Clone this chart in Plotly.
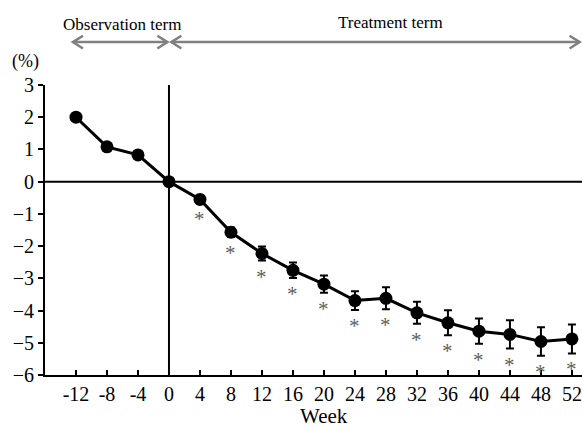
import plotly.graph_objects as go

weeks = [-12, -8, -4, 0, 4, 8, 12, 16, 20, 24, 28, 32, 36, 40, 44, 48, 52]
change = [2.0, 1.08, 0.83, 0.0, -0.55, -1.57, -2.23, -2.75, -3.18, -3.69, -3.62,
          -4.07, -4.38, -4.64, -4.74, -4.96, -4.88]
err = [0, 0, 0, 0, 0.1, 0.15, 0.22, 0.24, 0.27, 0.29, 0.34, 0.34, 0.39, 0.39,
       0.44, 0.44, 0.45]
significant = [False, False, False, False] + [True] * 13
tick_labels = [str(w) for w in weeks]

FONT = "Liberation Serif, Times New Roman, serif"
fig = go.Figure()

fig.add_trace(go.Scatter(
    x=weeks, y=change, mode="lines+markers",
    line=dict(color="black", width=3),
    marker=dict(color="black", size=13),
    error_y=dict(type="data", array=err, visible=True, color="black",
                 thickness=2, width=4),
    showlegend=False,
))

annotations = []
for w, v, e, s in zip(weeks, change, err, significant):
    if s:
        annotations.append(dict(x=w, y=v - e, xref="x", yref="y", text="*",
                                showarrow=False, yanchor="top", yshift=-2,
                                font=dict(family=FONT, size=21, color="#606060")))

annotations += [
    dict(x=-6, y=1.21, xref="x", yref="paper", text="Observation term", showarrow=False,
         yanchor="middle", font=dict(family=FONT, size=17, color="black")),
    dict(x=28.6, y=1.215, xref="x", yref="paper", text="Treatment term", showarrow=False,
         yanchor="middle", font=dict(family=FONT, size=17, color="black")),
    dict(x=-0.036, y=1.08, xref="paper", yref="paper", text="(%)", showarrow=False,
         xanchor="center", yanchor="middle", font=dict(family=FONT, size=18, color="black")),
    dict(x=0.52, y=-0.142, xref="paper", yref="paper", text="Week", showarrow=False,
         xanchor="center", yanchor="middle", borderpad=0,
         font=dict(family=FONT, size=21, color="black")),
]

shapes = [
    dict(type="line", xref="x", yref="paper", x0=0, x1=0, y0=0, y1=1,
         line=dict(color="black", width=2)),
    dict(type="line", xref="paper", yref="y", x0=0, x1=1, y0=0, y1=0,
         line=dict(color="black", width=2)),
]
ay = 1.148
hh = 0.022
hw = 1.3
arrow_col = "#808080"
for x0, x1 in [(-12.4, -0.2), (0.3, 53.0)]:
    shapes.append(dict(type="line", xref="x", yref="paper", x0=x0, x1=x1, y0=ay, y1=ay,
                       line=dict(color=arrow_col, width=2.5)))
    shapes.append(dict(type="path", xref="x", yref="paper",
                       path=f"M {x0+hw},{ay+hh} L {x0},{ay} L {x0+hw},{ay-hh}",
                       line=dict(color=arrow_col, width=2.5)))
    shapes.append(dict(type="path", xref="x", yref="paper",
                       path=f"M {x1-hw},{ay+hh} L {x1},{ay} L {x1-hw},{ay-hh}",
                       line=dict(color=arrow_col, width=2.5)))

fig.update_layout(
    width=582, height=428,
    margin=dict(l=45, r=0, t=85, b=53),
    paper_bgcolor="white", plot_bgcolor="white",
    font=dict(family=FONT, size=19, color="black"),
    annotations=annotations, shapes=shapes,
    xaxis=dict(range=[-16, 53.3], tickvals=weeks, ticktext=tick_labels,
               showgrid=False, zeroline=False, showline=True, linecolor="black",
               linewidth=2, ticks="inside", ticklen=5, tickwidth=2, tickcolor="black",
               automargin=False, tickfont=dict(family=FONT, size=20)),
    yaxis=dict(range=[-6, 3], dtick=1, showgrid=False, zeroline=False, showline=True,
               linecolor="black", linewidth=2, ticks="outside", ticklen=5, tickwidth=2,
               tickcolor="black", automargin=False, tickfont=dict(family=FONT, size=20)),
)

fig.write_html("out.html")
